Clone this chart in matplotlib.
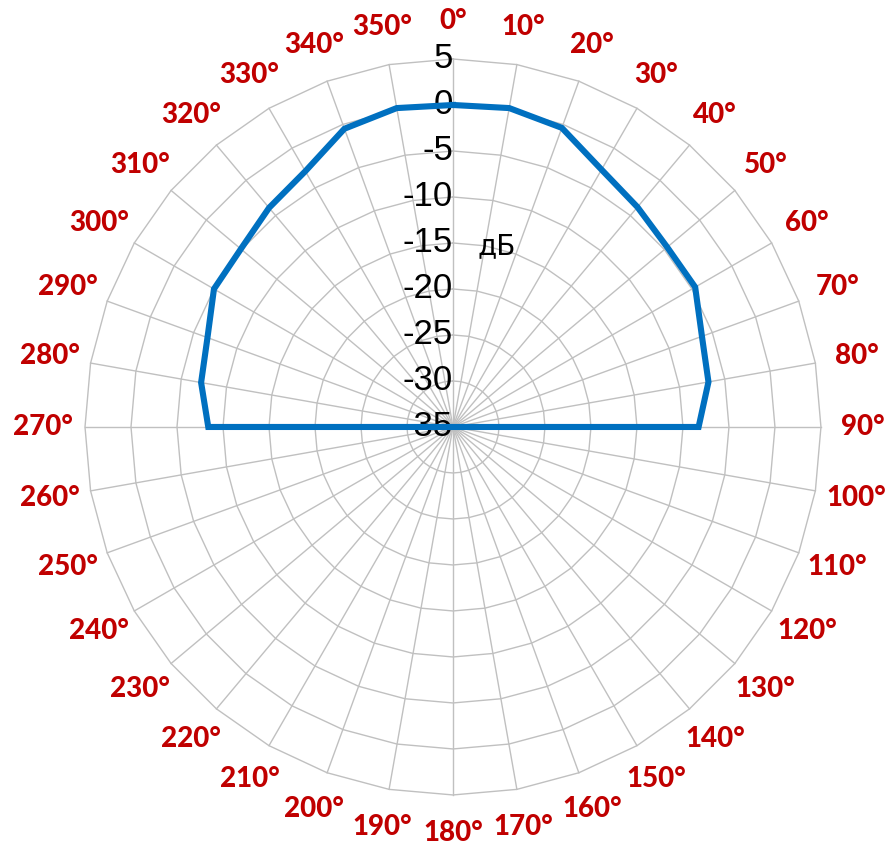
import numpy as np
import matplotlib
matplotlib.use("Agg")
import matplotlib.pyplot as plt

# ---- data ----
angles_deg = list(range(0, 360, 10))
gain_db = [0.0, 0.2, -0.4, -2.7, -3.8, -4.6, -4.6, -6.2, -6.8, -8.3,
           -35, -35, -35, -35, -35, -35, -35, -35, -35, -35, -35, -35, -35, -35, -35, -35, -35,
           -8.4, -7.2, -6.6, -5.0, -4.9, -3.9, -2.9, -0.5, 0.2]
ring_values = [5, 0, -5, -10, -15, -20, -25, -30, -35]
ring_labels = ["5", "0", "-5", "-10", "-15", "-20", "-25", "-30", "-35"]
angle_labels = [f"{a}°" for a in angles_deg]
unit_label = "дБ"

R_MIN, R_MAX = -35, 5

fig = plt.figure(figsize=(8.95, 8.46), dpi=100)
ax = fig.add_axes([0.09497, 0.0603, 0.8223, 0.870], projection="polar")
ax.set_theta_zero_location("N")
ax.set_theta_direction(-1)
ax.set_ylim(R_MIN, R_MAX)
ax.set_xticks([])
ax.set_yticks([])
ax.grid(False)
ax.spines["polar"].set_visible(False)
ax.patch.set_alpha(0)

theta = np.deg2rad(angles_deg)
theta_closed = np.append(theta, theta[0])
grid_color = "#c0c0c0"

# polygonal rings
for rv in ring_values[:-1]:
    ax.plot(theta_closed, [rv] * len(theta_closed), color=grid_color, lw=1.0, zorder=1,
            clip_on=False)
# spokes
for t in theta:
    ax.plot([t, t], [R_MIN, R_MAX], color=grid_color, lw=1.0, zorder=1, clip_on=False)

# data
g_closed = np.append(gain_db, gain_db[0])
ax.plot(theta_closed, g_closed, color="#0070c0", lw=4.4, zorder=3,
        solid_joinstyle="miter", clip_on=False)

# radial labels
for rv, lab in zip(ring_values, ring_labels):
    ax.text(0, rv, lab, ha="right", va="center", fontsize=25,
            family="Liberation Sans", color="black", zorder=2)

# unit label
ax.text(np.deg2rad(13.7), -14.75, unit_label, ha="center", va="center", fontsize=20,
        family="DejaVu Sans", color="black", zorder=4)

# angle labels
for t, lab in zip(theta, angle_labels):
    off = 4.1 + 0.45 * np.sin(t) ** 2
    ax.text(t, R_MAX + off, lab, ha="center", va="center", fontsize=20,
            fontweight="black", family="Lato", color="#c00000", clip_on=False)

fig.savefig("out.png", dpi=100)
